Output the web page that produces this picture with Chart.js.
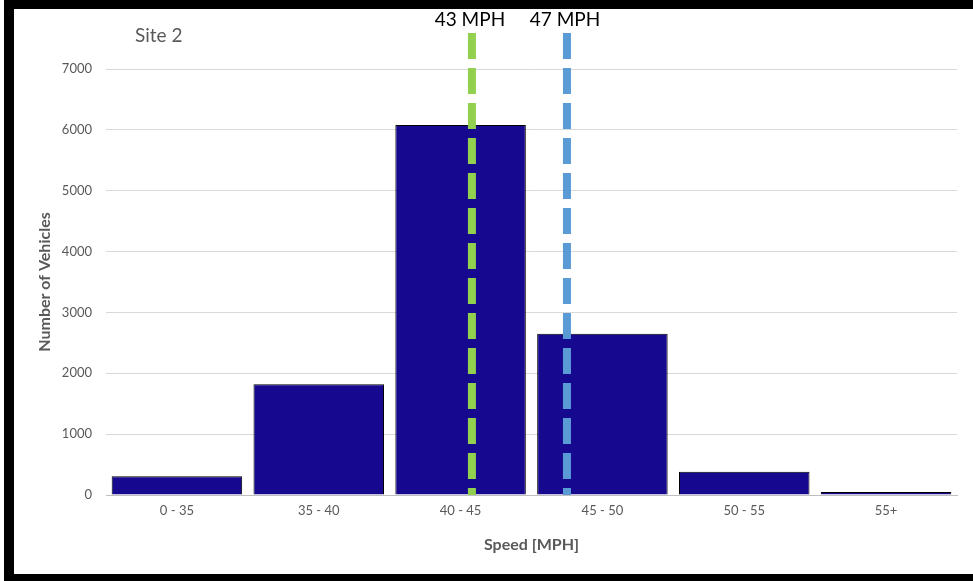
<!DOCTYPE html>
<html>
<head>
<meta charset="utf-8">
<script src="https://cdn.jsdelivr.net/npm/chart.js@4/dist/chart.umd.min.js"></script>
<style>
  body { margin: 0; background: #fff; }
  #wrap { position: relative; width: 973px; height: 581px; overflow: hidden; }
  #frame { position: absolute; left: 4px; top: 0; width: 1000px; height: 565px;
           border-left: 10px solid #000; border-top: 9px solid #000; border-bottom: 7px solid #000; }
  canvas { position: absolute; left: 0; top: 0; }
</style>
</head>
<body>
<div id="wrap">
  <div id="frame"></div>
  <canvas id="myChart" width="973" height="581"></canvas>
</div>
<script>
var categories = ["0 - 35", "35 - 40", "40 - 45", "45 - 50", "50 - 55", "55+"];
var vehicles = [310, 1820, 6080, 2650, 380, 50];
var yTicks = [0, 1000, 2000, 3000, 4000, 5000, 6000, 7000];
// average speed markers, placed on the category axis (index units)
var markerLabels = ["43 MPH", "47 MPH"];
var markerPositions = [2.08, 2.75];
var markerColors = ["#92d050", "#5b9bd5"];

var fontFamily = "Lato, 'Open Sans', sans-serif";

var markers = {
  id: "markers",
  afterDatasetsDraw: function(chart) {
    var ctx = chart.ctx;
    var area = chart.chartArea;
    var x = chart.scales.x;
    ctx.save();
    for (var i = 0; i < markerPositions.length; i++) {
      var px = x.getPixelForValue(markerPositions[i]);
      ctx.strokeStyle = markerColors[i];
      ctx.lineWidth = 8;
      ctx.setLineDash([26, 9]);
      ctx.lineDashOffset = 19;
      ctx.beginPath();
      ctx.moveTo(px, area.bottom);
      ctx.lineTo(px, area.top - 38);
      ctx.stroke();
      ctx.setLineDash([]);
      ctx.fillStyle = "#000";
      ctx.font = "19px " + fontFamily;
      ctx.textAlign = "center";
      ctx.textBaseline = "middle";
      ctx.fillText(markerLabels[i], px - 2, area.top - 49);
    }
    ctx.fillStyle = "#595959";
    ctx.font = "19px " + fontFamily;
    ctx.textAlign = "left";
    ctx.fillText("Site 2", area.left + 29, area.top - 33);
    ctx.restore();
  }
};

new Chart("myChart", {
  type: "bar",
  data: {
    labels: categories,
    datasets: [{
      data: vehicles,
      backgroundColor: "#170890",
      borderColor: "#000",
      borderWidth: 1,
      barPercentage: 0.92,
      categoryPercentage: 1.0
    }]
  },
  options: {
    responsive: false,
    animation: false,
    layout: { padding: { left: 28, right: 16, top: 69, bottom: 0 } },
    plugins: { legend: { display: false }, tooltip: { enabled: false } },
    scales: {
      x: {
        grid: { display: false, drawTicks: false },
        border: { display: true, color: "#bfbfbf", width: 1 },
        ticks: { color: "#595959", font: { family: fontFamily, size: 13 }, padding: 8, maxRotation: 0 },
        title: { display: true, text: "Speed [MPH]", color: "#595959",
                 font: { family: fontFamily, size: 16, weight: "bold" }, padding: { top: 0, bottom: 27 } },
        afterFit: function(s) { s.height = 86; }
      },
      y: {
        min: 0,
        max: 7000,
        afterBuildTicks: function(s) { s.ticks = yTicks.map(function(v) { return { value: v }; }); },
        grid: { color: "#d9d9d9", drawTicks: false },
        border: { display: false },
        ticks: { color: "#595959", font: { family: fontFamily, size: 13 }, padding: 14,
                 callback: function(v) { return String(v); } },
        title: { display: true, text: "Number of Vehicles", color: "#595959",
                 font: { family: fontFamily, size: 16, weight: "bold" }, padding: { top: 7, bottom: 0 } },
        afterFit: function(s) { s.width = 78; }
      }
    }
  },
  plugins: [markers]
});
</script>
</body>
</html>
